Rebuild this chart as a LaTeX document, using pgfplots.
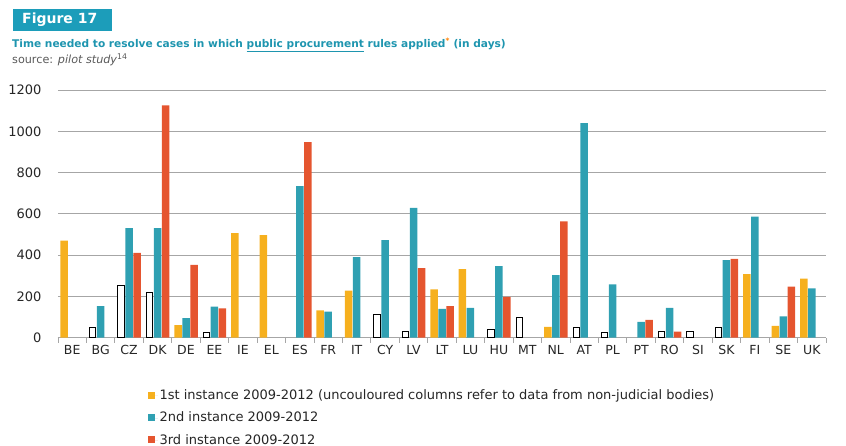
\documentclass[border=0pt]{standalone}
\usepackage{pgfplots}
\pgfplotsset{compat=1.18}
\usepackage{fontspec}
\setmainfont{DejaVu Sans}

\definecolor{yel}{HTML}{F6B01E}
\definecolor{tealbar}{HTML}{2FA0B2}
\definecolor{redbar}{HTML}{E5552F}
\definecolor{figbox}{HTML}{1C9DBA}
\definecolor{titleteal}{HTML}{1E95AF}
\definecolor{gridgray}{HTML}{A6A6A6}

\begin{document}
\begin{tikzpicture}
\useasboundingbox (0pt,0pt) rectangle (846pt,446pt);
% heading
\fill[figbox] (13pt,437pt) rectangle (112pt,415pt);
\node[anchor=west, text=white, inner sep=0pt, font=\bfseries\fontsize{14}{14}\selectfont] at (22pt,426pt) {Figure 17};
\node[anchor=west, text=titleteal, inner sep=0pt, font=\bfseries\fontsize{10.6}{11}\selectfont]
  at (12pt,401pt) {Time needed to resolve cases in which \underline{public procurement} rules applied\textcolor{orange}{\textsuperscript{*}} (in days)};
\node[anchor=west, text=black!65, inner sep=0pt, font=\fontsize{11.2}{12}\selectfont]
  at (12pt,386pt) {source: \textit{pilot study}\textsuperscript{14}};

\begin{axis}[
    at={(58pt,108.3pt)}, anchor=south west,
    scale only axis, width=768pt, height=247.7pt,
    xmin=-0.5, xmax=26.5, ymin=0, ymax=1200,
    ybar, bar width=7.5pt,
    axis x line*=bottom, axis y line*=left,
    x axis line style={gridgray, line width=0.9pt},
    y axis line style={draw=none},
    ymajorgrids, grid style={gridgray, line width=0.9pt},
    ytick={0,200,...,1200},
    ytick style={draw=none},
    yticklabel style={xshift=-8pt, font=\fontsize{13}{13}\selectfont},
    % tick marks at the category boundaries
    xtick={-0.5,0.5,...,26.5},
    xticklabels={},
    tick align=outside, major tick length=5pt,
    xtick style={draw=gridgray, line width=0.9pt},
    % category names at the centres
    extra x ticks={0,...,26},
    extra x tick labels={BE,BG,CZ,DK,DE,EE,IE,EL,ES,FR,IT,CY,LV,LT,LU,HU,MT,NL,AT,PL,PT,RO,SI,SK,FI,SE,UK},
    extra x tick style={grid=none, major tick length=0pt,
        xticklabel style={yshift=-4pt, font=\fontsize{12.5}{13}\selectfont}},
    tick label style={text=black!85},
    /pgf/number format/assume math mode=true,
    /pgf/number format/1000 sep={},
    legend style={draw=none, at={(0.117,-0.2)}, anchor=north west,
        font=\fontsize{13}{13}\selectfont, text=black!85, row sep=7pt,
        inner sep=0pt},
    legend cell align=left,
    legend image code/.code={\path (0pt,0pt) rectangle (9.5pt,0pt);
        \fill[#1] (0pt,-3.5pt) rectangle (6.5pt,3.5pt);},
]
% 1st instance (courts)
\addplot[fill=yel, draw=none, bar shift=-8pt] coordinates {
    (0,470) (4,61) (6,507) (7,497) (9,132) (10,228) (13,234) (14,332)
    (17,52) (24,308) (25,57) (26,286)
};
\addlegendentry{1st instance 2009-2012 (uncouloured columns refer to data from non-judicial bodies)}
% 1st instance (non-judicial bodies)
\addplot[fill=white, draw=black, line width=0.9pt, bar shift=-8pt, bar width=6.5pt, forget plot] coordinates {
    (1,48) (2,253) (3,218) (5,23) (11,115) (12,29) (15,42) (16,97)
    (18,48) (19,23) (21,29) (22,29) (23,48)
};
% 2nd instance
\addplot[fill=tealbar, draw=none, bar shift=0pt] coordinates {
    (1,153) (2,531) (3,531) (4,95) (5,150) (8,734) (9,126) (10,390)
    (11,473) (12,629) (13,140) (14,144) (15,347) (17,303) (18,1040)
    (19,258) (20,77) (21,144) (23,376) (24,587) (25,103) (26,239)
};
\addlegendentry{2nd instance 2009-2012}
% 3rd instance
\addplot[fill=redbar, draw=none, bar shift=8pt] coordinates {
    (2,411) (3,1126) (4,353) (5,142) (8,947) (12,337) (13,153) (15,198)
    (17,563) (20,86) (21,29) (23,382) (25,247)
};
\addlegendentry{3rd instance 2009-2012}
\end{axis}
\end{tikzpicture}
\end{document}
